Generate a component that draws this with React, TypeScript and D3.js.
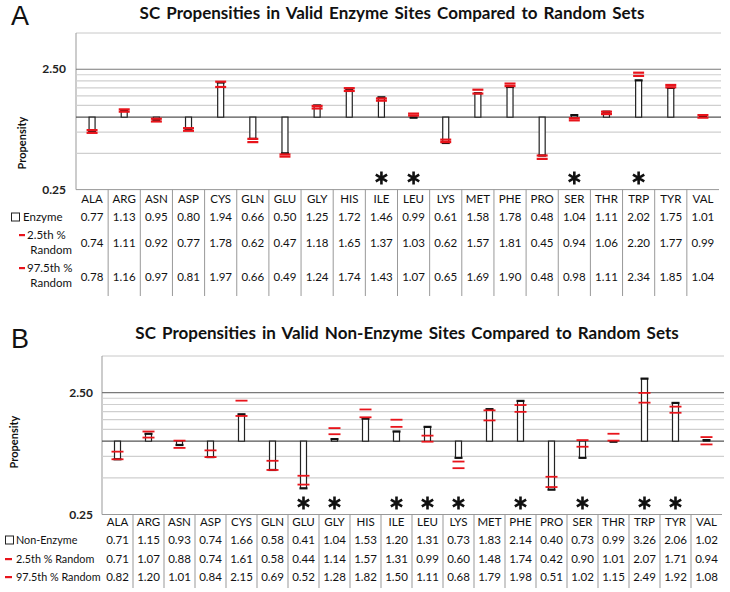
import React from "react";
import * as d3 from "d3";

const categories = ["ALA","ARG","ASN","ASP","CYS","GLN","GLU","GLY","HIS","ILE","LEU","LYS","MET","PHE","PRO","SER","THR","TRP","TYR","VAL"];

const enzyme = [0.77,1.13,0.95,0.80,1.94,0.66,0.50,1.25,1.72,1.46,0.99,0.61,1.58,1.78,0.48,1.04,1.11,2.02,1.75,1.01];
const enzymeLow = [0.74,1.11,0.92,0.77,1.78,0.62,0.47,1.18,1.65,1.37,1.03,0.62,1.57,1.81,0.45,0.94,1.06,2.20,1.77,0.99];
const enzymeHigh = [0.78,1.16,0.97,0.81,1.97,0.66,0.49,1.24,1.74,1.43,1.07,0.65,1.69,1.90,0.48,0.98,1.11,2.34,1.85,1.04];

const nonEnzyme = [0.71,1.15,0.93,0.74,1.66,0.58,0.41,1.04,1.53,1.20,1.31,0.73,1.83,2.14,0.40,0.73,0.99,3.26,2.06,1.02];
const nonEnzymeLow = [0.71,1.07,0.88,0.74,1.61,0.58,0.44,1.14,1.57,1.31,0.99,0.60,1.48,1.74,0.42,0.90,1.01,2.07,1.71,0.94];
const nonEnzymeHigh = [0.82,1.20,1.01,0.84,2.15,0.69,0.52,1.28,1.82,1.50,1.11,0.68,1.79,1.98,0.51,1.02,1.15,2.49,1.92,1.08];

const sigEnzyme = ["ILE","LEU","SER","TRP"];
const sigNonEnzyme = ["GLU","GLY","ILE","LEU","LYS","PHE","SER","TRP","TYR"];

const gridMinor = [0.5,0.75,1.25,1.5,1.75,2,2.25];
const tickLabels = [2.5, 0.25];
const yDomain = [0.25, 5];

const FONT = "Lato, 'Open Sans', sans-serif";
const fmt = d3.format(".2f");
const RED = "#e8141b";

type Cfg = {
  letter: string; letterX: number; letterY: number;
  title: string; titleX: number; titleY: number;
  left: number; right: number; top: number; bottom: number;
  tickX: number; propX: number; propY: number;
  barW: number; redW: number; redH: number;
  astY: number; sig: string[];
  values: number[]; low: number[]; high: number[];
  tableBottom: number; headerY: number; rowY: number[];
  twoLine: boolean; rowLabels: string[];
};

function Panel({ c }: { c: Cfg }) {
  const x = d3.scaleBand<string>().domain(categories).range([c.left, c.right]).padding(0);
  const y = d3.scaleLog().domain(yDomain).range([c.bottom, c.top]);
  const cx = (k: string) => (x(k) as number) + x.bandwidth() / 2;
  const y1 = y(1);
  const ast = d3.symbol().type(d3.symbolAsterisk).size(120)() as string;
  return (
    <g>
      <text x={c.letterX} y={c.letterY} fontFamily="'Liberation Sans', Arial, sans-serif" fontSize={27} fill="#111">{c.letter}</text>
      <text x={c.titleX} y={c.titleY} textAnchor="middle" fontFamily={FONT} fontWeight={700} fontSize={17} fill="#111" wordSpacing={2}>{c.title}</text>
      <line x1={c.left} x2={c.right + 2} y1={c.top} y2={c.top} stroke="#c8c8c8" />
      <line x1={c.left} x2={c.left} y1={c.top} y2={c.bottom} stroke="#999" />
      <line x1={c.left} x2={c.right} y1={c.bottom} y2={c.bottom} stroke="#999" />
      {gridMinor.map((v) => (
        <line key={v} x1={c.left} x2={c.right + 2} y1={y(v)} y2={y(v)} stroke="#cfcfcf" strokeWidth={1.2} />
      ))}
      <line x1={c.left} x2={c.right + 2} y1={y(2.5)} y2={y(2.5)} stroke="#7a7a7a" strokeWidth={1.2} />
      <line x1={c.left} x2={c.right + 2} y1={y1} y2={y1} stroke="#555" strokeWidth={1.2} />
      {tickLabels.map((v) => (
        <text key={v} x={c.tickX} y={y(v)} dy="0.35em" textAnchor="end" fontFamily={FONT} fontWeight={700} fontSize={12} fill="#222">{fmt(v)}</text>
      ))}
      <text transform={`translate(${c.propX},${c.propY}) rotate(-90)`} textAnchor="middle" dy="0.35em" fontFamily={FONT} fontWeight={700} fontSize={11} fill="#111">Propensity</text>
      {categories.map((k, i) => {
        const v = c.values[i];
        const yv = y(v);
        const top = Math.min(yv, y1);
        const h = Math.abs(yv - y1);
        return (
          <g key={k}>
            <rect x={cx(k) - c.barW / 2} y={top} width={c.barW} height={h} fill="#fff" stroke="#222" strokeWidth={1.2} />
            <line x1={cx(k) - c.barW / 2 - 1} x2={cx(k) + c.barW / 2 + 1} y1={yv} y2={yv} stroke="#111" strokeWidth={2.2} />
            <line x1={cx(k) - c.redW / 2} x2={cx(k) + c.redW / 2} y1={y(c.low[i])} y2={y(c.low[i])} stroke={RED} strokeWidth={c.redH} />
            <line x1={cx(k) - c.redW / 2} x2={cx(k) + c.redW / 2} y1={y(c.high[i])} y2={y(c.high[i])} stroke={RED} strokeWidth={c.redH} />
          </g>
        );
      })}
      {c.sig.map((k) => (
        <path key={k} d={ast} transform={`translate(${cx(k)},${c.astY})`} stroke="#111" strokeWidth={2.6} fill="none" />
      ))}
      {categories.slice(1).map((k) => (
        <line key={k} x1={x(k) as number} x2={x(k) as number} y1={c.bottom} y2={c.tableBottom} stroke="#999" />
      ))}
      {categories.map((k, i) => (
        <g key={k} fontFamily={FONT} fontSize={11.5} fill="#111" textAnchor="middle">
          <text x={cx(k)} y={c.headerY} dy="0.35em">{k}</text>
          <text x={cx(k)} y={c.rowY[0]} dy="0.35em">{fmt(c.values[i])}</text>
          <text x={cx(k)} y={c.rowY[1]} dy="0.35em">{fmt(c.low[i])}</text>
          <text x={cx(k)} y={c.rowY[2]} dy="0.35em">{fmt(c.high[i])}</text>
        </g>
      ))}
      {c.twoLine ? (
        <g fontFamily={FONT} fontSize={11.5} fill="#111">
          <rect x={11.5} y={c.rowY[0] - 4} width={8} height={8} fill="#fff" stroke="#222" />
          <text x={23} y={c.rowY[0]} dy="0.35em">{c.rowLabels[0]}</text>
          <rect x={19} y={c.rowY[1] - 9} width={6} height={2.2} fill={RED} />
          <text x={27} y={c.rowY[1] - 8} dy="0.35em">{c.rowLabels[1]}</text>
          <text x={72} y={c.rowY[1] + 7} dy="0.35em" textAnchor="end">Random</text>
          <rect x={19} y={c.rowY[2] - 10} width={6} height={2.2} fill={RED} />
          <text x={27} y={c.rowY[2] - 9} dy="0.35em">{c.rowLabels[2]}</text>
          <text x={72} y={c.rowY[2] + 6} dy="0.35em" textAnchor="end">Random</text>
        </g>
      ) : (
        <g fontFamily={FONT} fontSize={10.8} fill="#111">
          <rect x={5.5} y={c.rowY[0] - 4} width={8} height={8} fill="#fff" stroke="#222" />
          <text x={16} y={c.rowY[0]} dy="0.35em">{c.rowLabels[0]}</text>
          <rect x={5} y={c.rowY[1] - 1} width={7} height={2.2} fill={RED} />
          <text x={16} y={c.rowY[1]} dy="0.35em">{c.rowLabels[1]}</text>
          <rect x={5} y={c.rowY[2] - 1} width={7} height={2.2} fill={RED} />
          <text x={16} y={c.rowY[2]} dy="0.35em">{c.rowLabels[2]}</text>
        </g>
      )}
    </g>
  );
}

const panelA: Cfg = {
  letter: "A", letterX: 11, letterY: 25,
  title: "SC Propensities in Valid Enzyme Sites Compared to Random Sets", titleX: 392, titleY: 19,
  left: 76, right: 719, top: 33, bottom: 189.6,
  tickX: 66, propX: 22, propY: 143,
  barW: 6, redW: 11, redH: 2.2,
  astY: 178, sig: sigEnzyme,
  values: enzyme, low: enzymeLow, high: enzymeHigh,
  tableBottom: 296, headerY: 199, rowY: [217, 243, 277],
  twoLine: true, rowLabels: ["Enzyme", "2.5th %", "97.5th %"],
};

const panelB: Cfg = {
  letter: "B", letterX: 11, letterY: 348,
  title: "SC Propensities in Valid Non-Enzyme Sites Compared to Random Sets", titleX: 407, titleY: 339,
  left: 102, right: 722, top: 356, bottom: 514.5,
  tickX: 93, propX: 14, propY: 442,
  barW: 6, redW: 12, redH: 1.8,
  astY: 503, sig: sigNonEnzyme,
  values: nonEnzyme, low: nonEnzymeLow, high: nonEnzymeHigh,
  tableBottom: 588, headerY: 522, rowY: [540, 559, 577],
  twoLine: false, rowLabels: ["Non-Enzyme", "2.5th % Random", "97.5th % Random"],
};

export default function App() {
  return (
    <svg width={730} height={592} style={{ position: "absolute", left: 0, top: 0, background: "#fff" }}>
      <rect width={730} height={592} fill="#fff" />
      <Panel c={panelA} />
      <Panel c={panelB} />
    </svg>
  );
}
